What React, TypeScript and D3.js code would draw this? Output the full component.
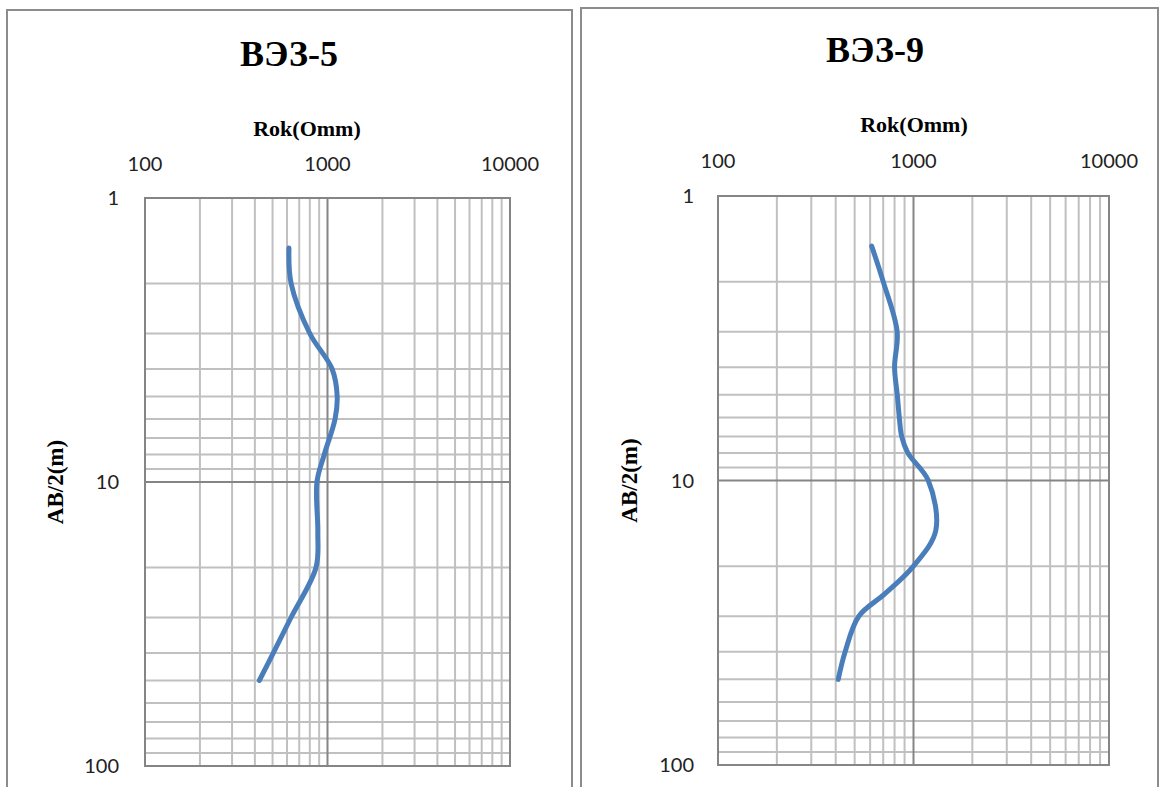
import React from "react";
import * as d3 from "d3";

// VES-5 sounding: AB/2 (m) and apparent resistivity (Ohm·m)
const ves5Depth = [1.5, 2, 3, 4, 5, 6, 8, 10, 15, 20, 30, 40, 50];
const ves5Rho = [615, 632, 800, 1060, 1130, 1100, 960, 875, 885, 865, 631, 505, 423];

// VES-9 sounding
const ves9Depth = [1.5, 2, 3, 4, 5, 6, 7, 8, 10, 15, 20, 25, 30, 40, 50];
const ves9Rho = [611, 700, 825, 800, 826, 846, 870, 935, 1190, 1300, 1000, 715, 525, 447, 412];

const xTickValues = [100, 1000, 10000];
const yTickValues = [1, 10, 100];
const titles = ["ВЭЗ-5", "ВЭЗ-9"];
const xAxisTitle = "Rok(Omm)";
const yAxisTitle = "AB/2(m)";

type PanelCfg = {
  border: { x: number; y: number; w: number; h: number };
  plot: { x0: number; x1: number; y0: number; y1: number };
  title: { x: number; y: number };
  xTitle: { x: number; y: number };
  xTickY: number;
  yTickX: number;
  yTitleX: number;
};

const panels: PanelCfg[] = [
  {
    border: { x: 7, y: 10, w: 565, h: 800 },
    plot: { x0: 145, x1: 510, y0: 198, y1: 766 },
    title: { x: 289, y: 66 },
    xTitle: { x: 307, y: 136 },
    xTickY: 171,
    yTickX: 119,
    yTitleX: 63,
  },
  {
    border: { x: 581, y: 8, w: 577, h: 800 },
    plot: { x0: 718, x1: 1109, y0: 196, y1: 765 },
    title: { x: 875, y: 62 },
    xTitle: { x: 914, y: 132 },
    xTickY: 168,
    yTickX: 694,
    yTitleX: 637,
  },
];

const serif = "'Liberation Serif', 'Times New Roman', serif";
const sans = "Lato, 'Liberation Sans', sans-serif";

function Panel({ cfg, title, depth, rho }: { cfg: PanelCfg; title: string; depth: number[]; rho: number[] }) {
  const { plot } = cfg;
  const x = d3.scaleLog().domain([100, 10000]).range([plot.x0, plot.x1]);
  const y = d3.scaleLog().domain([1, 100]).range([plot.y0, plot.y1]);

  const minorX: number[] = [];
  const minorY: number[] = [];
  [100, 1000].forEach((d) => {
    for (let k = 2; k <= 9; k++) minorX.push(d * k);
  });
  [1, 10].forEach((d) => {
    for (let k = 2; k <= 9; k++) minorY.push(d * k);
  });

  const pts: [number, number][] = depth.map((d, i) => [rho[i], d]);
  const line = d3
    .line<[number, number]>()
    .x((p) => x(p[0]))
    .y((p) => y(p[1]))
    .curve(d3.curveCatmullRom.alpha(0.5));

  const yMid = (plot.y0 + plot.y1) / 2;

  return (
    <g>
      <rect
        x={cfg.border.x}
        y={cfg.border.y}
        width={cfg.border.w}
        height={cfg.border.h}
        fill="#fff"
        stroke="#8c8c8c"
        strokeWidth={2}
      />
      <text x={cfg.title.x} y={cfg.title.y} textAnchor="middle" fontFamily={serif} fontWeight="bold" fontSize={36} fill="#000">
        {title}
      </text>
      <text x={cfg.xTitle.x} y={cfg.xTitle.y} textAnchor="middle" fontFamily={serif} fontWeight="bold" fontSize={22} fill="#000">
        {xAxisTitle}
      </text>
      <text
        transform={`translate(${cfg.yTitleX},${yMid}) rotate(-90)`}
        textAnchor="middle"
        fontFamily={serif}
        fontWeight="bold"
        fontSize={23}
        fill="#000"
      >
        {yAxisTitle}
      </text>

      {minorX.map((v) => (
        <line key={"mx" + v} x1={x(v)} x2={x(v)} y1={plot.y0} y2={plot.y1} stroke="#c0c0c0" strokeWidth={2} />
      ))}
      {minorY.map((v) => (
        <line key={"my" + v} x1={plot.x0} x2={plot.x1} y1={y(v)} y2={y(v)} stroke="#c0c0c0" strokeWidth={2} />
      ))}
      <line x1={x(1000)} x2={x(1000)} y1={plot.y0} y2={plot.y1} stroke="#858585" strokeWidth={2} />
      <line x1={plot.x0} x2={plot.x1} y1={y(10)} y2={y(10)} stroke="#858585" strokeWidth={2} />
      <rect
        x={plot.x0}
        y={plot.y0}
        width={plot.x1 - plot.x0}
        height={plot.y1 - plot.y0}
        fill="none"
        stroke="#858585"
        strokeWidth={2}
      />

      {xTickValues.map((v) => (
        <text key={"xt" + v} x={x(v)} y={cfg.xTickY} textAnchor="middle" fontFamily={sans} fontSize={20} fill="#222">
          {v}
        </text>
      ))}
      {yTickValues.map((v) => (
        <text
          key={"yt" + v}
          x={cfg.yTickX}
          y={y(v)}
          dy="0.35em"
          textAnchor="end"
          fontFamily={sans}
          fontSize={20}
          fill="#222"
        >
          {v}
        </text>
      ))}

      <path d={line(pts) || ""} fill="none" stroke="#4a7ebb" strokeWidth={5} strokeLinecap="round" strokeLinejoin="round" />
    </g>
  );
}

export default function App() {
  return (
    <svg
      width={1161}
      height={787}
      style={{ position: "absolute", left: 0, top: 0, background: "#fff" }}
    >
      <rect x={0} y={0} width={1161} height={787} fill="#fff" />
      <Panel cfg={panels[0]} title={titles[0]} depth={ves5Depth} rho={ves5Rho} />
      <Panel cfg={panels[1]} title={titles[1]} depth={ves9Depth} rho={ves9Rho} />
    </svg>
  );
}
